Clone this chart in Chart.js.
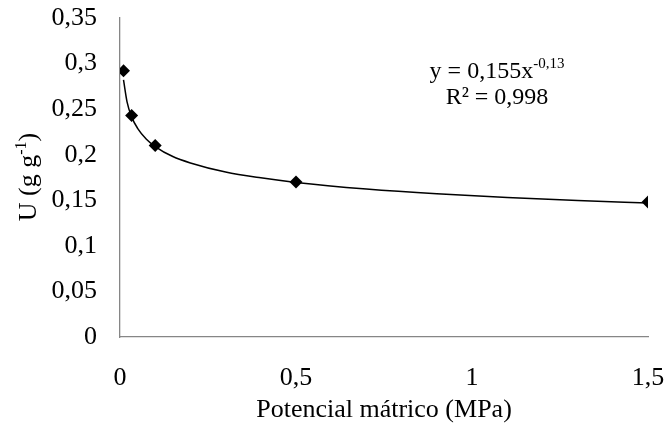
<!DOCTYPE html>
<html>
<head>
<meta charset="utf-8">
<script src="https://cdn.jsdelivr.net/npm/chart.js@4"></script>
<style>
  html, body { margin: 0; padding: 0; background: #fff; }
  #wrap { width: 667px; height: 426px; }
</style>
</head>
<body>
<div id="wrap"><canvas id="chart" width="667" height="426"></canvas></div>
<script>
// measured points
const potencial = [0.01, 0.033, 0.1, 0.5, 1.5];
const umidade = [0.292, 0.243, 0.21, 0.17, 0.148];

// trend line
const trendX = [0.01, 0.02, 0.033, 0.05, 0.075, 0.1, 0.15, 0.2, 0.3, 0.4, 0.5, 0.7, 0.9, 1.1, 1.3, 1.5];
const trendY = [0.282, 0.258, 0.2415, 0.229, 0.217, 0.209, 0.198, 0.191, 0.181, 0.1746, 0.1696, 0.1624, 0.1571, 0.1531, 0.1498, 0.147];

const xTicks = [0, 0.5, 1, 1.5];
const yTicks = [0, 0.05, 0.1, 0.15, 0.2, 0.25, 0.3, 0.35];

const FONT = "'Liberation Serif', 'Times New Roman', serif";
const AXIS = '#868686';

const fmt = v => String(Math.round(v * 100) / 100).replace('.', ',');

// titles with superscripts drawn on the canvas
const extraText = {
    id: 'extraText',
    afterDraw(chart) {
        const c = chart.ctx;
        c.save();
        c.fillStyle = '#000';
        c.textBaseline = 'alphabetic';

        // y axis title: U (g g-1)
        c.translate(36, 177);
        c.rotate(-Math.PI / 2);
        const a = 'U (g g', b = '-1', d = ')';
        c.font = '26px ' + FONT;
        const wa = c.measureText(a).width, wd = c.measureText(d).width;
        c.font = '16px ' + FONT;
        const wb = c.measureText(b).width;
        let x = -(wa + wb + wd) / 2;
        c.font = '26px ' + FONT;
        c.fillText(a, x, 0);
        x += wa;
        c.font = '16px ' + FONT;
        c.fillText(b, x, -10);
        x += wb;
        c.font = '26px ' + FONT;
        c.fillText(d, x, 0);
        c.setTransform(1, 0, 0, 1, 0, 0);

        // equation
        const e1 = 'y = 0,155x', e2 = '-0,13';
        c.font = '24px ' + FONT;
        const w1 = c.measureText(e1).width;
        c.font = '15px ' + FONT;
        const w2 = c.measureText(e2).width;
        let ex = 497 - (w1 + w2) / 2;
        c.font = '24px ' + FONT;
        c.fillText(e1, ex, 78);
        c.font = '15px ' + FONT;
        c.fillText(e2, ex + w1, 68);
        c.font = '24px ' + FONT;
        c.textAlign = 'center';
        c.fillText('R² = 0,998', 497, 104);
        c.restore();
    }
};

new Chart(document.getElementById('chart'), {
    type: 'scatter',
    data: {
        datasets: [
            {
                label: 'U',
                data: potencial.map((p, i) => ({ x: p, y: umidade[i] })),
                pointStyle: 'rectRot',
                pointRadius: 6.5,
                backgroundColor: '#000',
                borderColor: '#000',
                borderWidth: 0,
                showLine: false,
                order: 0
            },
            {
                label: 'Potência',
                data: trendX.map((p, i) => ({ x: p, y: trendY[i] })),
                showLine: true,
                borderColor: '#000',
                borderWidth: 1.5,
                pointRadius: 0,
                cubicInterpolationMode: 'monotone',
                fill: false,
                order: 1
            }
        ]
    },
    plugins: [extraText],
    options: {
        responsive: false,
        animation: false,
        layout: { padding: { left: 0, right: 19, top: 18, bottom: 0 } },
        plugins: {
            legend: { display: false },
            tooltip: { enabled: false }
        },
        scales: {
            x: {
                type: 'linear',
                min: 0,
                max: 1.5,
                afterBuildTicks: s => { s.ticks = xTicks.map(v => ({ value: v })); },
                afterFit: s => {
                    s.height = 89;
                    s.paddingLeft = 0;
                    s.paddingRight = 0;
                },
                border: { color: AXIS, width: 1.3 },
                grid: { display: false, drawTicks: true, tickLength: 7, tickColor: AXIS },
                ticks: {
                    color: '#000',
                    font: { family: FONT, size: 26 },
                    padding: 19,
                    maxRotation: 0,
                    callback: v => fmt(v)
                },
                title: {
                    display: true,
                    text: 'Potencial mátrico (MPa)',
                    color: '#000',
                    font: { family: FONT, size: 26 },
                    padding: { top: 0, bottom: 0 }
                }
            },
            y: {
                type: 'linear',
                min: 0,
                max: 0.35,
                afterBuildTicks: s => { s.ticks = yTicks.map(v => ({ value: v })); },
                afterFit: s => {
                    s.width = 120;
                    s.paddingTop = 0;
                    s.paddingBottom = 0;
                },
                border: { color: AXIS, width: 1.3 },
                grid: { display: false, drawTicks: true, tickLength: 8, tickColor: AXIS },
                ticks: {
                    color: '#000',
                    font: { family: FONT, size: 26 },
                    padding: 15,
                    callback: v => fmt(v)
                }
            }
        }
    }
});
</script>
</body>
</html>
